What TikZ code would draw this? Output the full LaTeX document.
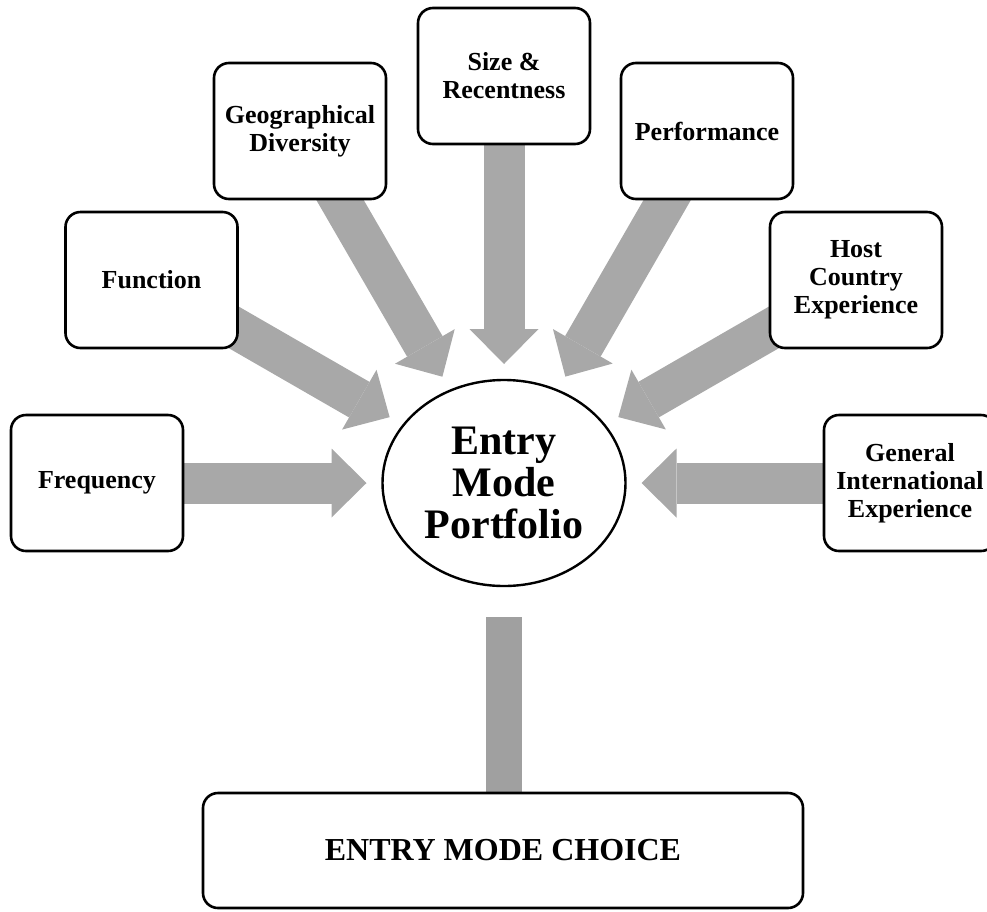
\documentclass[tikz,border=0pt]{standalone}
\usepackage{fontspec}
\setmainfont{Liberation Serif}
\usetikzlibrary{shapes.geometric,arrows.meta,backgrounds}
\definecolor{flowgray}{RGB}{168,168,168}
\definecolor{stemgray}{RGB}{160,160,160}

\begin{document}
\begin{tikzpicture}[x=1pt,y=-1pt,
	factor/.style={draw,line width=2.6pt,rounded corners=15pt,fill=white,
		minimum width=172pt,minimum height=136pt,inner sep=0pt,outer sep=0pt,
		align=center,font=\fontsize{26}{28}\selectfont\bfseries},
	flow/.style={draw=flowgray,line width=41pt,
		-{Triangle[length=35pt,width=69pt,line width=0pt]},shorten >=16pt},
	stem/.style={draw=stemgray,line width=36pt,shorten <=31pt}]
	\useasboundingbox (0,0) rectangle (987,911);
	\clip (0,0) rectangle (987,911);
	% centre
	\node[ellipse,draw,fill=white,line width=2.4pt,minimum width=243pt,minimum height=206pt,
		inner sep=0pt,outer sep=0pt,align=center,
		font=\fontsize{42}{42}\selectfont\bfseries] (epf) at (504,483) {Entry\\Mode\\Portfolio};
	% factors
	\node[factor] (freq) at (97,483) {Frequency};
	\node[factor] (func) at (151.5,280) {Function};
	\node[factor] (geo) at (300,131) {Geographical\\Diversity};
	\node[factor] (size) at (504,76) {Size \&\\Recentness};
	\node[factor] (perf) at (707,131) {Performance};
	\node[factor] (host) at (856,280) {Host\\Country\\Experience};
	\node[factor] (gen) at (910,483) {General\\International\\Experience};
	% outcome
	\node[factor,minimum width=600pt,minimum height=115pt,
		font=\fontsize{32}{34}\selectfont\bfseries] (emc) at (503,850.5) {ENTRY MODE CHOICE};
	% block arrows
	\begin{scope}[on background layer]
		\draw[flow] (freq.center) -- (epf);
		\draw[flow] (func.center) -- (epf);
		\draw[flow] (geo.center) -- (epf);
		\draw[flow] (size.center) -- (epf);
		\draw[flow] (perf.center) -- (epf);
		\draw[flow] (host.center) -- (epf);
		\draw[flow] (gen.center) -- (epf);
		\draw[stem] (epf.south) -- (epf.south |- emc.north);
	\end{scope}
\end{tikzpicture}
\end{document}
